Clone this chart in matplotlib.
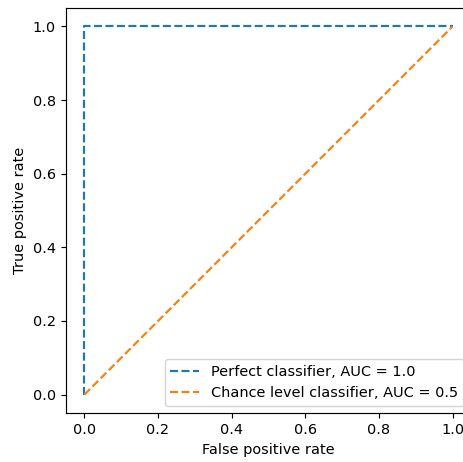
import matplotlib
matplotlib.use("Agg")
import matplotlib.pyplot as plt

# ROC curves of the two reference classifiers
perfect_fpr = [0, 0, 1]
perfect_tpr = [0, 1, 1]
chance_fpr = [0, 1]
chance_tpr = [0, 1]
perfect_auc = 1.0
chance_auc = 0.5

DPI = 104
W, H = 463, 462
fig = plt.figure(figsize=(W / DPI, H / DPI), dpi=DPI)
# axes box in pixels: left, bottom, right, top
ax = fig.add_axes([66 / W, (H - 413) / H, (471 - 66) / W, (413 - 8) / H])

ax.plot(perfect_fpr, perfect_tpr, "--", label=f"Perfect classifier, AUC = {perfect_auc}")
ax.plot(chance_fpr, chance_tpr, "--", label=f"Chance level classifier, AUC = {chance_auc}")
ax.set_xlim(-0.05, 1.05)
ax.set_ylim(-0.05, 1.05)
ax.set_xlabel("False positive rate")
ax.set_ylabel("True positive rate")
ax.legend(loc="lower right")

fig.savefig("out.png", dpi=DPI)
